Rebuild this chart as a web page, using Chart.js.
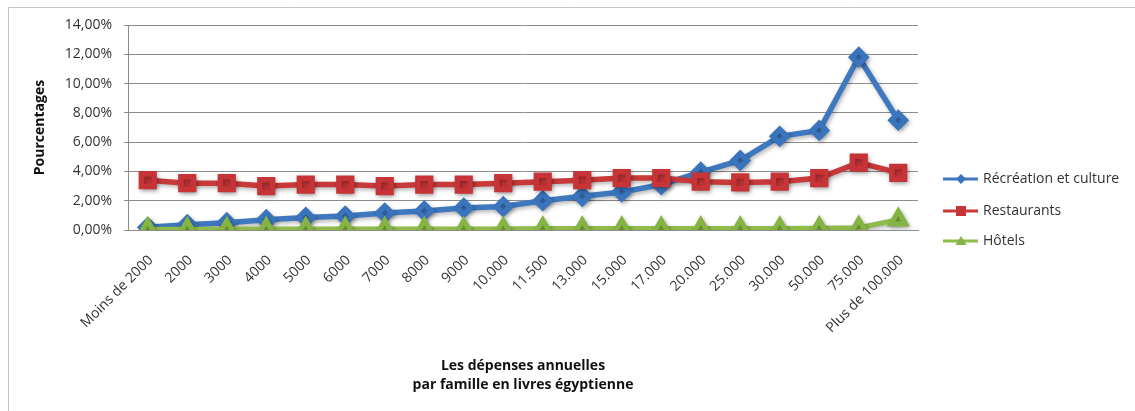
<!DOCTYPE html>
<html>
<head>
<meta charset="utf-8">
<script src="https://cdn.jsdelivr.net/npm/chart.js@4"></script>
<style>
html,body{margin:0;padding:0;background:#fff;}
#wrap{position:relative;width:1135px;height:411px;}
</style>
</head>
<body>
<div id="wrap"><canvas id="c" width="1135" height="411"></canvas></div>
<script>
const categories = ['Moins de 2000','2000','3000','4000','5000','6000','7000','8000','9000','10.000','11.500','13.000','15.000','17.000','20.000','25.000','30.000','50.000','75.000','Plus de 100.000'];
const recreation = [0.18,0.36,0.5,0.7,0.86,0.95,1.16,1.3,1.5,1.6,2.0,2.3,2.6,3.1,3.95,4.75,6.4,6.8,11.8,7.5];
const restaurants = [3.4,3.2,3.2,3.0,3.1,3.1,3.0,3.1,3.1,3.2,3.3,3.4,3.55,3.55,3.3,3.25,3.3,3.55,4.6,3.9];
const hotels = [0.05,0.05,0.05,0.07,0.07,0.07,0.07,0.07,0.07,0.07,0.1,0.1,0.1,0.1,0.1,0.1,0.1,0.12,0.15,0.7];
const seriesNames = ['Récréation et culture','Restaurants','Hôtels'];
const yTicks = [0,2,4,6,8,10,12,14];
const xTitle = ['Les dépenses annuelles','par famille en livres égyptienne'];
const yTitle = 'Pourcentages';

const FONT = '"Open Sans", sans-serif';
const TXT = '#333333';

const framePlugin = {
  id: 'frame',
  beforeDraw(chart){
    const ctx = chart.ctx;
    ctx.save();
    ctx.strokeStyle = '#c4c4c4';
    ctx.lineWidth = 1;
    ctx.beginPath();
    ctx.moveTo(8.5, 411); ctx.lineTo(8.5, 7.5); ctx.lineTo(1135, 7.5);
    ctx.stroke();
    ctx.restore();
  }
};

const shadowPlugin = {
  id: 'shadow',
  beforeDatasetsDraw(chart){
    const ctx = chart.ctx;
    ctx.save();
    ctx.shadowColor = 'rgba(0,0,0,0.3)';
    ctx.shadowBlur = 4;
    ctx.shadowOffsetX = 1.5;
    ctx.shadowOffsetY = 2;
  },
  afterDatasetsDraw(chart){ chart.ctx.restore(); }
};

const legendPlugin = {
  id: 'excelLegend',
  afterDraw(chart){
    const ctx = chart.ctx;
    const rows = [179, 211, 241];
    ctx.save();
    chart.data.datasets.forEach((ds, i) => {
      const y = rows[i];
      ctx.strokeStyle = ds.borderColor;
      ctx.lineWidth = 3;
      ctx.beginPath(); ctx.moveTo(943, y); ctx.lineTo(978, y); ctx.stroke();
      ctx.fillStyle = ds.pointBackgroundColor;
      ctx.beginPath();
      const cx = 961;
      if (ds.pointStyle === 'rectRot') {
        ctx.moveTo(cx, y-5); ctx.lineTo(cx+5, y); ctx.lineTo(cx, y+5); ctx.lineTo(cx-5, y); ctx.closePath();
      } else if (ds.pointStyle === 'rect') {
        ctx.rect(cx-5, y-5, 10, 10);
      } else {
        ctx.moveTo(cx, y-5); ctx.lineTo(cx+5.5, y+4); ctx.lineTo(cx-5.5, y+4); ctx.closePath();
      }
      ctx.fill();
      ctx.fillStyle = TXT;
      ctx.font = '14px ' + FONT;
      ctx.textBaseline = 'middle';
      ctx.textAlign = 'left';
      ctx.fillText(ds.label, 983, y);
    });
    ctx.restore();
  }
};

new Chart(document.getElementById('c'), {
  type: 'line',
  data: {
    labels: categories,
    datasets: [
      { label: seriesNames[0], data: recreation, borderColor: '#3e78bf', backgroundColor: '#3e78bf',
        pointBackgroundColor: '#3a74bc', pointBorderColor: '#3a74bc', borderWidth: 5.5,
        pointStyle: 'rectRot', pointRadius: 7, order: 2 },
      { label: seriesNames[1], data: restaurants, borderColor: '#c8393a', backgroundColor: '#c8393a',
        pointBackgroundColor: '#c63437', pointBorderColor: '#c63437', borderWidth: 5.5,
        pointStyle: 'rect', pointRadius: 9, order: 1 },
      { label: seriesNames[2], data: hotels, borderColor: '#8fbb4a', backgroundColor: '#8fbb4a',
        pointBackgroundColor: '#86b443', pointBorderColor: '#86b443', borderWidth: 5,
        pointStyle: 'triangle', pointRadius: 8.5, order: 0 }
    ]
  },
  options: {
    responsive: false,
    animation: false,
    events: [],
    layout: { padding: { left: 28, right: 217, top: 25, bottom: 0 } },
    plugins: { legend: { display: false }, tooltip: { enabled: false } },
    elements: { line: { tension: 0 }, point: { borderWidth: 1 } },
    scales: {
      x: {
        offset: true,
        grid: { display: false, drawTicks: false },
        border: { display: true, color: '#8c8c8c', width: 1 },
        ticks: { minRotation: 45, maxRotation: 45, autoSkip: false, padding: 22, labelOffset: 3,
                 color: TXT, font: { family: FONT, size: 14 } },
        title: { display: true, text: xTitle, color: '#111', font: { family: FONT, size: 14, weight: 'bold', lineHeight: '19px' },
                 padding: { top: 0, bottom: 16.5 } },
        afterFit(s){ s.height = 181; }
      },
      y: {
        min: 0, max: 14,
        afterBuildTicks(s){ s.ticks = yTicks.map(v => ({ value: v })); },
        grid: { color: '#8c8c8c', lineWidth: 1, tickLength: 4, drawTicks: true, tickColor: '#8c8c8c' },
        border: { display: true, color: '#8c8c8c', width: 1 },
        ticks: { padding: 12, color: TXT, font: { family: FONT, size: 14 },
                 callback: v => v.toFixed(2).replace('.', ',') + '%' },
        title: { display: true, text: yTitle, color: '#111', font: { family: FONT, size: 14, weight: 'bold' },
                 padding: { top: 4, bottom: 4 } },
        afterFit(s){ s.width = 100; }
      }
    }
  },
  plugins: [framePlugin, shadowPlugin, legendPlugin]
});
</script>
</body>
</html>
